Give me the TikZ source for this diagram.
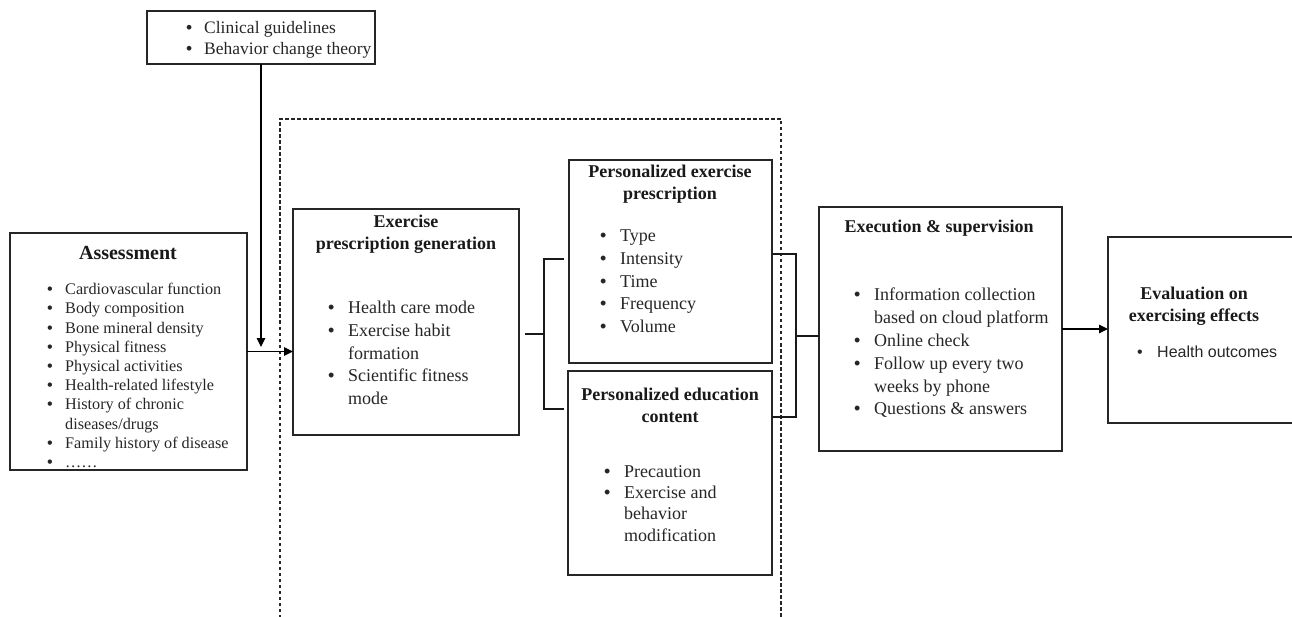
\documentclass[tikz,border=0pt]{standalone}
\usepackage{fontspec}
\setmainfont{Liberation Serif}
\newfontfamily\arialfont{Liberation Sans}
\usetikzlibrary{arrows.meta,calc}
\newcommand\bdot{{\arialfont\textbullet}}
\newcommand\bulA{\makebox[18pt][l]{\bdot}}
\newcommand\indA{\hspace*{18pt}}
\newcommand\bulB{\makebox[20pt][l]{\bdot}}
\newcommand\indB{\hspace*{20pt}}
\begin{document}
\begin{tikzpicture}[x=1pt,y=-1pt,
  box/.style={draw=black!85, line width=1.2pt, inner sep=0pt, outer sep=0pt, anchor=north west},
  lst/.style={anchor=north west, inner sep=0pt, align=left, text=black!85},
  ttl/.style={inner sep=0pt, align=center, text=black!90, font=\bfseries\fontsize{18}{22}\selectfont},
  conn/.style={draw=black, line width=1.2pt},
  arr/.style={conn, -{Triangle[length=9pt,width=8.5pt]}},
  brk/.style={draw=black!90, line width=2.6pt},
  dashbox/.style={draw=black!85, line width=1.1pt, dash pattern=on 3.5pt off 2.5pt}]
\clip (0,0) rectangle (1292,617);
\useasboundingbox (0,0) rectangle (1292,617);

% dashed frame
\draw[dashbox] (280,630) -- (280,119) -- (781,119) -- (781,630);

% boxes
\node[box, minimum width=228pt, minimum height=53pt] (clin) at (147,11) {};
\node[box, minimum width=237pt, minimum height=237pt] (assess) at (10,233) {};
\node[box, minimum width=226pt, minimum height=226pt] (peg) at (293,209) {};
\node[box, minimum width=203pt, minimum height=203pt] (pep) at (569,160) {};
\node[box, minimum width=204pt, minimum height=204pt] (pec) at (568,371) {};
\node[box, minimum width=243pt, minimum height=244pt] (exec) at (819,207) {};
\node[box, minimum width=200pt, minimum height=186pt] (eval) at (1108,237) {};

% texts
\node[lst, font=\fontsize{17.5}{21}\selectfont] (clintxt) at (186,21.5)
  {\bulA Clinical guidelines\\ \bulA Behavior change theory};

\node[ttl, font=\bfseries\fontsize{20}{24}\selectfont] (assessttl) at (128,253) {Assessment};
\node[lst, font=\fontsize{16.2}{19.2}\selectfont] (assesstxt) at (47,283)
  {\bulA Cardiovascular function\\
   \bulA Body composition\\
   \bulA Bone mineral density\\
   \bulA Physical fitness\\
   \bulA Physical activities\\
   \bulA Health-related lifestyle\\
   \bulA History of chronic\\
   \indA diseases/drugs\\
   \bulA Family history of disease\\
   \bulA ……};

\node[ttl] (pegttl) at (406,234) {Exercise\\prescription generation};
\node[lst, font=\fontsize{18}{22.7}\selectfont] (pegtxt) at (328,301)
  {\bulB Health care mode\\
   \bulB Exercise habit\\
   \indB formation\\
   \bulB Scientific fitness\\
   \indB mode};

\node[ttl] (pepttl) at (670,184) {Personalized exercise\\prescription};
\node[lst, font=\fontsize{18}{22.6}\selectfont] (peptxt) at (600,230)
  {\bulB Type\\ \bulB Intensity\\ \bulB Time\\ \bulB Frequency\\ \bulB Volume};

\node[ttl] (pecttl) at (670,405) {Personalized education\\content};
\node[lst, font=\fontsize{18}{21.3}\selectfont] (pectxt) at (604,465)
  {\bulB Precaution\\ \bulB Exercise and\\ \indB behavior\\ \indB modification};

\node[ttl] (execttl) at (939,228) {Execution \& supervision};
\node[lst, font=\fontsize{18}{22.8}\selectfont] (exectxt) at (854,288)
  {\bulB Information collection\\
   \indB based on cloud platform\\
   \bulB Online check\\
   \bulB Follow up every two\\
   \indB weeks by phone\\
   \bulB Questions \& answers};

\node[ttl] (evalttl) at (1194,306) {Evaluation on\\exercising effects};
\node[lst, font=\arialfont\fontsize{16}{19}\selectfont] (evaltxt) at (1137,345.5)
  {\bulB Health outcomes};

% connectors
\coordinate (c1) at (clin.south |- 0,347);
\draw[arr] (clin.south) -- (c1);
\draw[arr] (assess.east) -- (assess.east -| peg.west);

\coordinate (bL) at (544,334);
\coordinate (bT) at (544,259);
\coordinate (bB) at (544,409);
\draw[brk] ($(peg.east |- bL)+(6,0)$) -- (bL);
\draw[brk] ($(bT -| pep.west)+(-5,0)$) -- (bT) -- (bB) -- ($(bB -| pec.west)+(-4,0)$);

\coordinate (rT) at (796,254);
\coordinate (rB) at (796,417);
\coordinate (rM) at (796,336);
\draw[brk] (rT -| pep.east) -- (rT) -- (rB) -- (rB -| pec.east);
\draw[brk] (rM) -- (rM -| exec.west);

\draw[arr] (exec.east) -- (exec.east -| eval.west);
\end{tikzpicture}
\end{document}
